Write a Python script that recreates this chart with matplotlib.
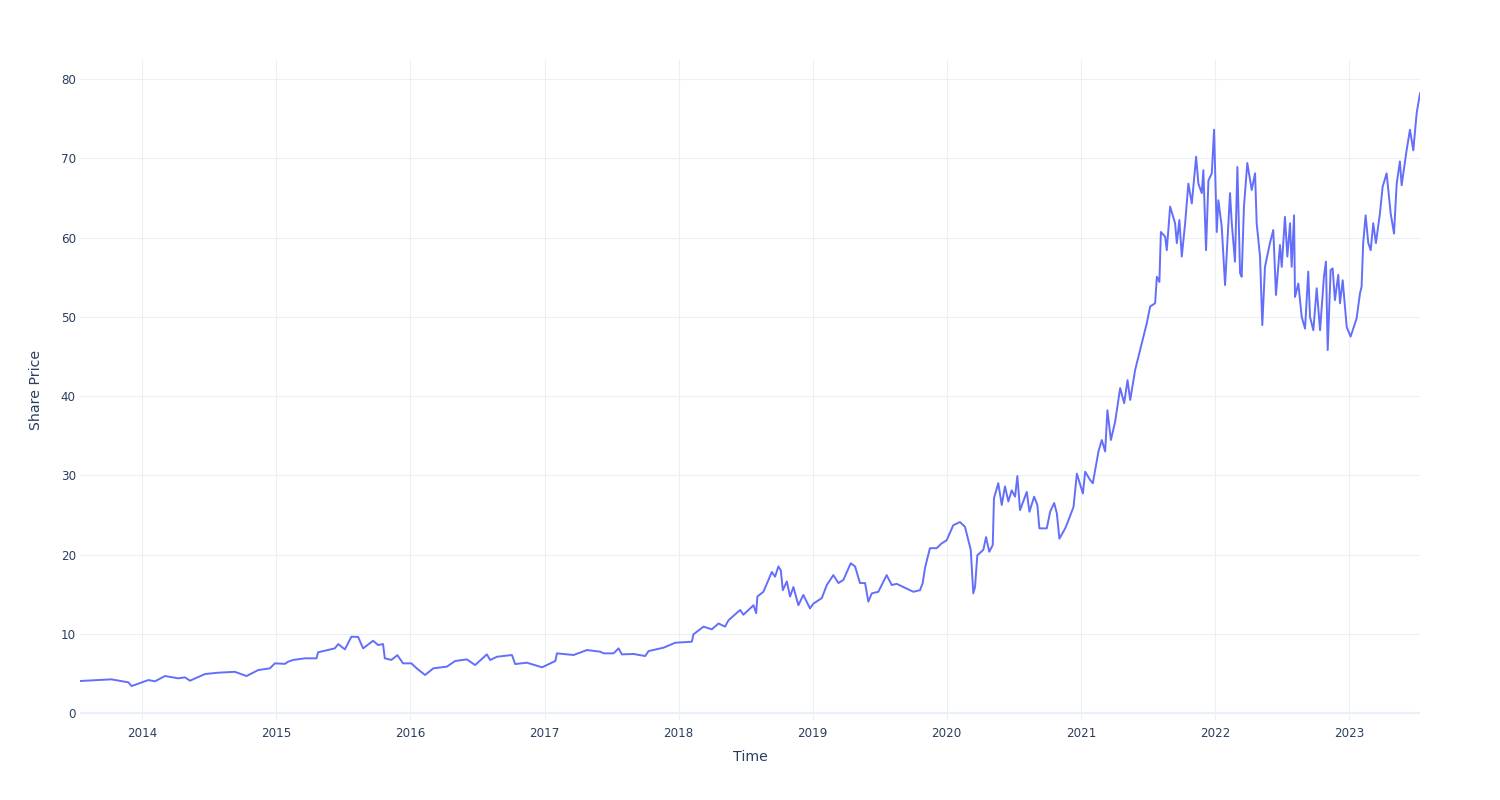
import numpy as np
import pandas as pd
import matplotlib
matplotlib.use("Agg")
import matplotlib.pyplot as plt

# Dates (decimal years) and share price
anos = [2013.535, 2013.769, 2013.896, 2013.920, 2014.045, 2014.095, 2014.169, 2014.268,
        2014.318, 2014.356, 2014.468, 2014.567, 2014.691, 2014.778, 2014.865, 2014.952,
        2014.990, 2015.064, 2015.089, 2015.126, 2015.213, 2015.300, 2015.312, 2015.437,
        2015.462, 2015.512, 2015.561, 2015.611, 2015.648, 2015.723, 2015.760, 2015.797,
        2015.810, 2015.859, 2015.904, 2015.946, 2016.008, 2016.048, 2016.110, 2016.172,
        2016.272, 2016.334, 2016.421, 2016.483, 2016.570, 2016.595, 2016.645, 2016.757,
        2016.781, 2016.868, 2016.981, 2017.080, 2017.092, 2017.216, 2017.316, 2017.415,
        2017.440, 2017.515, 2017.552, 2017.577, 2017.664, 2017.751, 2017.776, 2017.887,
        2017.975, 2018.099, 2018.111, 2018.186, 2018.248, 2018.298, 2018.347, 2018.372,
        2018.459, 2018.484, 2018.559, 2018.579, 2018.588, 2018.633, 2018.696, 2018.720,
        2018.745, 2018.763, 2018.778, 2018.808, 2018.832, 2018.857, 2018.894, 2018.931,
        2018.981, 2019.006, 2019.069, 2019.106, 2019.155, 2019.193, 2019.230, 2019.285,
        2019.317, 2019.354, 2019.392, 2019.416, 2019.442, 2019.491, 2019.553, 2019.591,
        2019.628, 2019.703, 2019.752, 2019.802, 2019.822, 2019.839, 2019.876, 2019.926,
        2019.963, 2020.001, 2020.050, 2020.100, 2020.137, 2020.162, 2020.180, 2020.199,
        2020.212, 2020.229, 2020.274, 2020.294, 2020.318, 2020.344, 2020.353, 2020.385,
        2020.411, 2020.435, 2020.460, 2020.485, 2020.510, 2020.527, 2020.547, 2020.597,
        2020.617, 2020.652, 2020.676, 2020.691, 2020.746, 2020.771, 2020.801, 2020.821,
        2020.840, 2020.883, 2020.908, 2020.945, 2020.970, 2021.015, 2021.032, 2021.069,
        2021.089, 2021.131, 2021.156, 2021.181, 2021.198, 2021.224, 2021.256, 2021.293,
        2021.323, 2021.348, 2021.368, 2021.405, 2021.442, 2021.492, 2021.517, 2021.554,
        2021.567, 2021.586, 2021.597, 2021.629, 2021.641, 2021.666, 2021.703, 2021.716,
        2021.735, 2021.753, 2021.778, 2021.802, 2021.828, 2021.860, 2021.877, 2021.902,
        2021.914, 2021.934, 2021.952, 2021.977, 2021.994, 2022.014, 2022.026, 2022.051,
        2022.076, 2022.113, 2022.126, 2022.150, 2022.168, 2022.188, 2022.200, 2022.217,
        2022.242, 2022.275, 2022.300, 2022.312, 2022.337, 2022.354, 2022.374, 2022.411,
        2022.436, 2022.456, 2022.486, 2022.499, 2022.523, 2022.541, 2022.561, 2022.573,
        2022.591, 2022.598, 2022.623, 2022.648, 2022.673, 2022.697, 2022.710, 2022.735,
        2022.760, 2022.785, 2022.814, 2022.829, 2022.842, 2022.864, 2022.879, 2022.896,
        2022.921, 2022.934, 2022.954, 2022.984, 2023.013, 2023.058, 2023.083, 2023.095,
        2023.107, 2023.125, 2023.145, 2023.163, 2023.182, 2023.202, 2023.232, 2023.252,
        2023.282, 2023.312, 2023.337, 2023.357, 2023.381, 2023.394, 2023.431, 2023.456,
        2023.481, 2023.506, 2023.531]

preco = [4.04, 4.25, 3.87, 3.40, 4.16, 4.00, 4.67, 4.38,
         4.50, 4.08, 4.92, 5.09, 5.20, 4.67, 5.42, 5.64,
         6.27, 6.20, 6.48, 6.70, 6.90, 6.90, 7.66, 8.16,
         8.70, 8.03, 9.63, 9.60, 8.16, 9.12, 8.58, 8.70,
         6.90, 6.70, 7.30, 6.27, 6.27, 5.64, 4.80, 5.64,
         5.85, 6.56, 6.77, 6.05, 7.40, 6.69, 7.10, 7.32,
         6.18, 6.35, 5.77, 6.56, 7.53, 7.32, 7.95, 7.74,
         7.53, 7.53, 8.16, 7.40, 7.45, 7.19, 7.82, 8.24,
         8.87, 9.00, 9.93, 10.90, 10.56, 11.30, 10.90, 11.70,
         13.00, 12.40, 13.60, 12.60, 14.70, 15.30, 17.80, 17.20,
         18.50, 18.00, 15.50, 16.60, 14.70, 15.90, 13.60, 14.90,
         13.20, 13.80, 14.50, 16.15, 17.40, 16.40, 16.80, 18.90,
         18.50, 16.40, 16.40, 14.05, 15.10, 15.30, 17.40, 16.15,
         16.30, 15.70, 15.30, 15.50, 16.40, 18.30, 20.80, 20.80,
         21.40, 21.80, 23.70, 24.10, 23.50, 21.80, 20.60, 15.10,
         15.90, 19.90, 20.60, 22.20, 20.35, 21.20, 27.10, 29.00,
         26.25, 28.60, 26.70, 28.10, 27.30, 29.90, 25.60, 27.90,
         25.40, 27.30, 26.25, 23.30, 23.30, 25.40, 26.50, 25.20,
         22.00, 23.30, 24.35, 26.00, 30.20, 27.70, 30.45, 29.40,
         29.00, 33.00, 34.45, 33.00, 38.20, 34.45, 36.80, 41.00,
         39.10, 42.00, 39.50, 43.30, 45.80, 49.20, 51.30, 51.70,
         55.05, 54.40, 60.70, 60.10, 58.40, 63.90, 61.80, 59.30,
         62.20, 57.60, 61.80, 66.80, 64.30, 70.20, 66.80, 65.60,
         68.50, 58.40, 67.20, 68.10, 73.60, 60.70, 64.70, 61.40,
         54.00, 65.60, 61.80, 56.95, 68.90, 55.50, 55.05, 63.90,
         69.40, 66.00, 68.10, 61.80, 57.60, 48.95, 56.30, 59.30,
         60.95, 52.75, 59.05, 56.30, 62.60, 57.60, 61.80, 56.30,
         62.80, 52.50, 54.20, 50.00, 48.50, 55.70, 50.00, 48.30,
         53.60, 48.30, 55.05, 56.95, 45.80, 55.90, 56.10, 52.10,
         55.30, 51.70, 54.60, 48.70, 47.50, 49.80, 52.95, 53.80,
         59.30, 62.80, 59.30, 58.40, 61.80, 59.30, 63.05, 66.40,
         68.10, 63.05, 60.50, 66.80, 69.60, 66.60, 71.00, 73.60,
         71.00, 75.70, 78.20]

anos_ticks = list(range(2014, 2024))
y_ticks = [0, 10, 20, 30, 40, 50, 60, 70, 80]


# Convertendo os anos decimais em datas
def para_data(a):
    ano = int(np.floor(a))
    inicio = pd.Timestamp(year=ano, month=1, day=1)
    fim = pd.Timestamp(year=ano + 1, month=1, day=1)
    return inicio + (fim - inicio) * (a - ano)


datas = [para_data(a) for a in anos]

cor_texto = '#2a3f5f'
cor_grade = '#EBF0F8'

fig = plt.figure(figsize=(15, 8), dpi=100)
ax = fig.add_axes([80/1500, 80/800, 1340/1500, 660/800])

ax.plot(datas, preco, color='#636efa', linewidth=1.4, zorder=3)

ax.set_xlim(datas[0], datas[-1])
ax.set_ylim(-0.88, 82.4)

ax.set_xticks([pd.Timestamp(year=a, month=1, day=1) for a in anos_ticks])
ax.set_xticklabels([str(a) for a in anos_ticks])
ax.set_yticks(y_ticks)

ax.grid(True, color=cor_grade, linewidth=0.8, zorder=0)
ax.axhline(0, color=cor_grade, linewidth=1.6, zorder=1)
for s in ax.spines.values():
    s.set_visible(False)

ax.tick_params(axis='both', length=0, labelsize=8.6, labelcolor=cor_texto)
ax.tick_params(axis='x', pad=5)
ax.tick_params(axis='y', pad=3)

ax.set_xlabel('Time', fontsize=10.2, color=cor_texto, labelpad=7)
ax.set_ylabel('Share Price', fontsize=10.2, color=cor_texto, labelpad=13)

fig.savefig('out.png', dpi=100, facecolor='white')
